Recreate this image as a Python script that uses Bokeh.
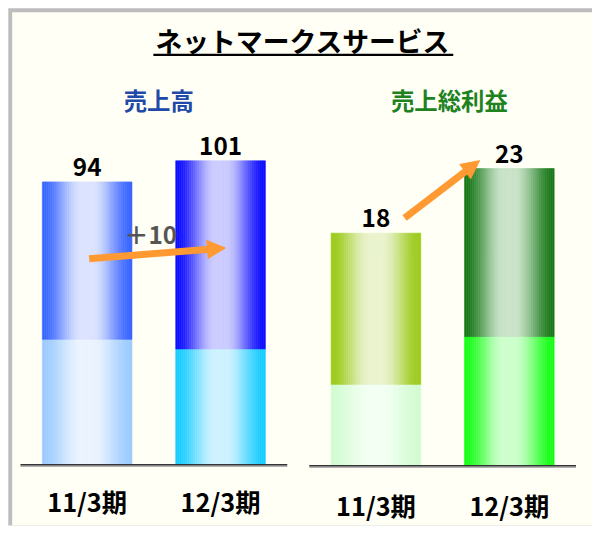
import numpy as np
from bokeh.plotting import figure
from bokeh.models import Range1d, Label, Arrow, NormalHead, BoxAnnotation
from bokeh.core.properties import value
from bokeh.embed import file_html
from bokeh.resources import INLINE

# ---------------- data ----------------
periods = ["11/3期", "12/3期"]
sales = [94, 101]            # 売上高 (total bar)
sales_lower = [41.7, 38.5]   # lower segment
gross = [18, 23]             # 売上総利益 (total bar)
gross_lower = [6.3, 10.0]    # lower segment
chart_title = "ネットマークスサービス"
sales_title = "売上高"
gross_title = "売上総利益"
sales_change = "＋10"

# ---------------- style / layout ----------------
FONT = "Noto Sans CJK JP"
ORANGE = "#FF9A33"
W, H = 592, 528                  # figure size (fits the window)
REF_W, REF_H = 608, 544          # layout is designed on this canvas
KF = W / REF_W                   # font scale
UNIT = 137.0      # ref px per category step
X0 = 89.0         # ref x of first category centre
GAP = 2.165       # offset of second panel (category units)
BW = 0.672        # bar width (category units)
base_l, scale_l = 478.3, 3.10
base_r, scale_r = 479.3, 13.31


def sx(px):
    return (px - X0) / UNIT


def syl(py):
    return (base_l - py) / scale_l


def syr(py):
    return (base_r - py) / scale_r


def fs(px):
    return "%.1fpx" % (px * KF)


p = figure(width=W, height=H, output_backend="svg", toolbar_location=None,
           x_range=Range1d(sx(0), sx(REF_W)),
           y_range=Range1d(syl(REF_H), syl(0)),
           x_axis_location=None, y_axis_location=None,
           min_border_left=0, min_border_top=0,
           min_border_right=0, min_border_bottom=0,
           background_fill_color="white", border_fill_color="white",
           outline_line_color=None)
p.extra_y_ranges = {"gp": Range1d(syr(REF_H), syr(0))}
p.grid.visible = False

# slide frame: gray edge + ivory panel
p.add_layout(BoxAnnotation(left=sx(8), top=syl(8), bottom=syl(541), fill_color="#BDBDBD",
                           fill_alpha=1, line_color=None, level="underlay"))
p.add_layout(BoxAnnotation(left=sx(12), top=syl(12), bottom=syl(541), fill_color="#FFFFF6",
                           fill_alpha=1, line_color=None, level="underlay"))


def hexrgb(h):
    return np.array([int(h[i:i + 2], 16) for i in (1, 3, 5)], float)


def grad_bar(xc, bottom, top, edge, center, rname="default", n=46):
    e, c = hexrgb(edge), hexrgb(center)
    t = (np.arange(n) + 0.5) / n
    d = np.abs(t - 0.5) * 2
    s = np.clip((d - 0.12) / 0.88, 0, 1)
    f = 1 - s * s * (3 - 2 * s)
    cols = ["#%02x%02x%02x" % tuple(int(round(v)) for v in (e + (c - e) * fi)) for fi in f]
    left = xc - BW / 2 + np.arange(n) * BW / n
    right = left + BW / n
    kw = {} if rname == "default" else {"y_range_name": rname}
    p.quad(left=left, right=right, bottom=[bottom] * n, top=[top] * n,
           fill_color=cols, line_color=cols, line_width=0.6, **kw)


xl = np.arange(len(periods)).astype(float)
xr = xl + GAP

sales_cols = [(("#9DCBFF", "#EBF4FF"), ("#3A66FF", "#DCE3FF")),
              (("#18CCFF", "#CDF2FF"), ("#0D0DFF", "#CBCBFF"))]
gross_cols = [(("#D2FCD2", "#F3FFF3"), ("#9CCB1C", "#EAF3CE")),
              (("#18FF18", "#CCFFCC"), ("#1A7A1A", "#C8E3C8"))]

for i in range(len(periods)):
    (le, lc), (ue, uc) = sales_cols[i]
    grad_bar(xl[i], 0, sales_lower[i], le, lc)
    grad_bar(xl[i], sales_lower[i], sales[i], ue, uc)
    (le, lc), (ue, uc) = gross_cols[i]
    grad_bar(xr[i], 0, gross_lower[i], le, lc, "gp")
    grad_bar(xr[i], gross_lower[i], gross[i], ue, uc, "gp")

# base lines (with soft shadow)
p.segment(x0=[xl[0] - 0.5], x1=[xl[-1] + 0.5], y0=[-1.6 / scale_l], y1=[-1.6 / scale_l],
          line_color="#B0B0B0", line_width=1.5)
p.segment(x0=[xl[0] - 0.5], x1=[xl[-1] + 0.5], y0=[0], y1=[0],
          line_color="#333333", line_width=1.5)
p.segment(x0=[xr[0] - 0.5], x1=[xr[-1] + 0.5], y0=[-1.6 / scale_r], y1=[-1.6 / scale_r],
          line_color="#B0B0B0", line_width=1.5, y_range_name="gp")
p.segment(x0=[xr[0] - 0.5], x1=[xr[-1] + 0.5], y0=[0], y1=[0],
          line_color="#333333", line_width=1.5, y_range_name="gp")

# value labels
vl = dict(text_font=value(FONT), text_font_style="bold", text_font_size=fs(25),
          text_color="black", text_align="center", text_baseline="bottom", y_offset=-6)
p.text(x=xl, y=sales, text=[str(v) for v in sales], **vl)
p.text(x=xr, y=gross, text=[str(v) for v in gross], y_range_name="gp", **vl)

# category labels
cl = dict(text_font=value(FONT), text_font_style="bold", text_font_size=fs(26),
          text_color="black", text_align="center", text_baseline="middle")
p.text(x=xl, y=[syl(516)] * 2, text=periods, **cl)
p.text(x=xr, y=[syr(520)] * 2, text=periods, y_range_name="gp", **cl)

# titles
p.add_layout(Label(x=sx(310.5), y=syl(41), text=chart_title, text_align="center",
                   text_baseline="middle", text_font=FONT, text_font_size=fs(27.5),
                   text_font_style="bold", text_color="black"))
p.add_layout(BoxAnnotation(left=sx(157), right=sx(465), top=syl(54.8), bottom=syl(57.3),
                           fill_color="black", fill_alpha=1, line_color=None))
p.add_layout(Label(x=sx(162.5), y=syl(103), text=sales_title, text_align="center",
                   text_baseline="middle", text_font=FONT, text_font_size=fs(24),
                   text_font_style="bold", text_color="#2149A8"))
p.add_layout(Label(x=sx(461), y=syl(103), text=gross_title, text_align="center",
                   text_baseline="middle", text_font=FONT, text_font_size=fs(24),
                   text_font_style="bold", text_color="#1E821E"))
p.add_layout(Label(x=sx(127), y=syl(240), text=sales_change, text_align="left",
                   text_baseline="middle", text_font=FONT, text_font_size=fs(25),
                   text_font_style="bold", text_color="#555555"))

# arrows
p.add_layout(Arrow(end=NormalHead(size=18, fill_color=ORANGE, line_color=ORANGE, line_width=1),
                   x_start=sx(91), y_start=syl(266), x_end=sx(231), y_end=syl(255),
                   line_color=ORANGE, line_width=7))
p.add_layout(Arrow(end=NormalHead(size=18, fill_color=ORANGE, line_color=ORANGE, line_width=1),
                   x_start=sx(415), y_start=syr(224), x_end=sx(492), y_end=syr(165),
                   line_color=ORANGE, line_width=7, y_range_name="gp"))

open("out.html", "w").write(file_html(p, INLINE, "chart"))
